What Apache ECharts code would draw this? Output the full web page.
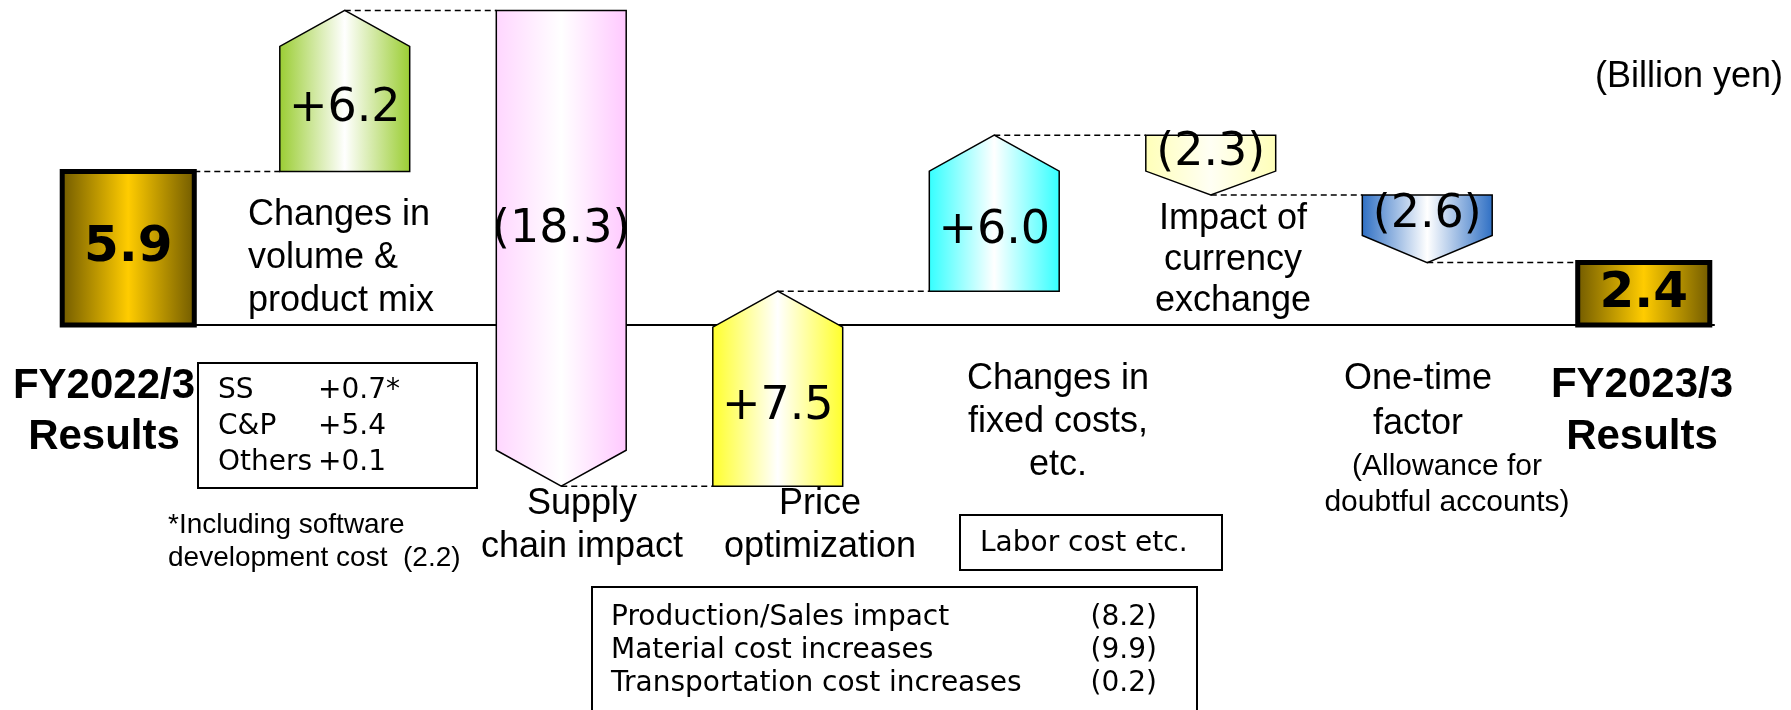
<!DOCTYPE html>
<html>
<head>
<meta charset="utf-8">
<title>Operating income bridge FY2022/3 - FY2023/3</title>
<script src="https://cdn.jsdelivr.net/npm/echarts@6/dist/echarts.min.js"></script>
<style>
  html, body { margin: 0; padding: 0; background: #fff; }
  #chart { width: 1791px; height: 710px; }
</style>
</head>
<body>
<div id="chart"></div>
<script>
// bridge data, billion yen
const categories = ['FY2022/3\nResults', 'Changes in\nvolume &\nproduct mix', 'Supply\nchain impact', 'Price\noptimization',
  'Changes in\nfixed costs,\netc.', 'Impact of\ncurrency\nexchange', 'One-time\nfactor', 'FY2023/3\nResults'];
const startValue = 5.9;
const changes = [6.2, -18.3, 7.5, 6.0, -2.3, -2.6];
const endValue = 2.4;
const valueLabels = ['5.9', '+6.2', '(18.3)', '+7.5', '+6.0', '(2.3)', '(2.6)', '2.4'];

// breakdown notes
const volumeNames = ['SS', 'C&P', 'Others'];
const volumeValues = ['+0.7*', '+5.4', '+0.1'];
const supplyNames = ['Production/Sales impact', 'Material cost increases', 'Transportation cost increases'];
const supplyValues = ['(8.2)', '(9.9)', '(0.2)'];
const fixedCostNote = 'Labor cost etc.';
const oneTimeNote = '(Allowance for\ndoubtful accounts)';
const footnote = '*Including software\ndevelopment cost  (2.2)';
const unitLabel = '(Billion yen)';

// left / middle / right colour of each shape
const fills = [
    ['#6e5800', '#ffcc00', '#6e5800'],
    ['#9acd32', '#ffffff', '#9acd32'],
    ['#ffd6ff', '#ffffff', '#ffc8ff'],
    ['#ffff2a', '#ffffff', '#ffff2a'],
    ['#33ffff', '#ffffff', '#33ffff'],
    ['#ffffb8', '#fffff4', '#ffffb8'],
    ['#2e6fc4', '#ffffff', '#2e6fc4'],
    ['#6e5800', '#ffcc00', '#6e5800']
];

const ARIAL = '"Liberation Sans", Arial, sans-serif';
const GOTHIC = '"DejaVu Sans", Verdana, sans-serif';

// rows: [index, from, to, isTotal]
const rows = [[0, 0, startValue, 1]];
let level = startValue;
changes.forEach(function (c, k) {
    const from = level;
    level = Math.round((level + c) * 10) / 10;
    rows.push([k + 1, from, level, 0]);
});
rows.push([categories.length - 1, 0, endValue, 1]);
const last = categories.length - 1;

function barWidth(api, idx) {
    return api.size([1, 0])[0] * (idx === 0 || idx === last ? 0.61 : 0.6);
}

function renderItem(params, api) {
    const i = api.value(0), from = api.value(1), to = api.value(2), isTotal = api.value(3) === 1;
    const w = barWidth(api, i);
    const p0 = api.coord([i, from]), p1 = api.coord([i, to]);
    const cx = p0[0], x0 = cx - w / 2, x1 = cx + w / 2;
    const y0 = p0[1], y1 = p1[1];
    const c = fills[i];
    const grad = new echarts.graphic.LinearGradient(0, 0, 1, 0, [
        {offset: 0, color: c[0]}, {offset: 0.5, color: c[1]}, {offset: 1, color: c[2]}
    ]);
    const children = [];

    if (i === 0) {
        const zeroY = api.coord([0, 0])[1];
        const endX = api.coord([last, 0])[0] + barWidth(api, last) / 2 + 5;
        children.push({type: 'line', shape: {x1: x1, y1: zeroY, x2: endX, y2: zeroY},
            style: {stroke: '#000', lineWidth: 2}});
    }

    let labelY;
    if (isTotal) {
        children.push({type: 'rect', shape: {x: x0, y: y1, width: w, height: y0 - y1},
            style: {fill: grad, stroke: '#000', lineWidth: 5}});
        labelY = (y0 + y1) / 2;
    } else {
        const up = to > from;
        const h = Math.abs(y0 - y1);
        const head = Math.min(36, h * 0.4);
        const ys = up ? y1 + head : y1 - head;
        children.push({type: 'polygon', shape: {points: [[x0, y0], [x0, ys], [cx, y1], [x1, ys], [x1, y0]]},
            style: {fill: grad, stroke: '#000', lineWidth: 1.5}});
        labelY = (y0 + ys) / 2;
    }
    children.push({type: 'text', x: cx, y: labelY, style: {
        text: valueLabels[i], fill: '#000', textAlign: 'center', textVerticalAlign: 'middle',
        font: isTotal ? 'bold 50px ' + GOTHIC : '46px ' + GOTHIC}});

    // dashed connector to the next shape
    if (i < last) {
        const nextX = api.coord([i + 1, to])[0] - barWidth(api, i + 1) / 2;
        children.push({type: 'line', shape: {x1: isTotal ? x1 : cx, y1: y1, x2: nextX, y2: y1},
            style: {stroke: '#000', lineWidth: 1.5, lineDash: [6, 4]}});
    }
    return {type: 'group', children: children};
}

// text placed by its first baseline
function label(text, x, baseline, size, lh, align, font, weight) {
    return {type: 'text', x: x, y: baseline - lh / 2 - 0.346 * size, z: 10,
        style: {text: text, fill: '#000', lineHeight: lh, textAlign: align || 'center',
            textVerticalAlign: 'top', font: (weight || 'normal') + ' ' + size + 'px ' + (font || ARIAL)}};
}
function box(x, y, w, h) {
    return {type: 'rect', z: 10, shape: {x: x, y: y, width: w, height: h},
        style: {fill: 'none', stroke: '#000', lineWidth: 2}};
}

const graphic = [
    label(categories[0], 104, 401, 42, 51, 'center', ARIAL, 'bold'),
    label(categories[1], 248, 228, 36, 43, 'left'),
    label(categories[2], 582, 517, 36, 43),
    label(categories[3], 820, 517, 36, 43),
    label(categories[4], 1058, 392, 36, 43),
    label(categories[5], 1233, 232, 36, 41),
    label(categories[6], 1418, 392, 36, 45),
    label(oneTimeNote, 1447, 477, 30, 36),
    label(categories[7], 1642, 400, 42, 52, 'center', ARIAL, 'bold'),
    label(unitLabel, 1595, 90, 36, 40, 'left'),

    box(198, 363, 279, 125),
    label(volumeNames.join('\n'), 218, 400, 28, 36, 'left', GOTHIC),
    label(volumeValues.join('\n'), 318, 400, 28, 36, 'left', GOTHIC),
    label(footnote, 168, 535, 28, 33, 'left'),

    box(960, 515, 262, 55),
    label(fixedCostNote, 980, 553, 28, 34, 'left', GOTHIC),

    box(592, 587, 605, 130),
    label(supplyNames.join('\n'), 611, 627, 28, 33, 'left', GOTHIC),
    label(supplyValues.join('\n'), 1157, 627, 28, 33, 'right', GOTHIC)
];

const chart = echarts.init(document.getElementById('chart'), null, {renderer: 'canvas'});
chart.setOption({
    animation: false,
    backgroundColor: '#fff',
    grid: {left: 20, width: 1732, top: 0, height: 507},
    xAxis: {type: 'category', data: categories, show: false},
    yAxis: {type: 'value', min: -7, max: 12.5, show: false},
    series: [{
        type: 'custom',
        renderItem: renderItem,
        data: rows,
        encode: {x: 0, y: [1, 2]}
    }],
    graphic: graphic
});
</script>
</body>
</html>
